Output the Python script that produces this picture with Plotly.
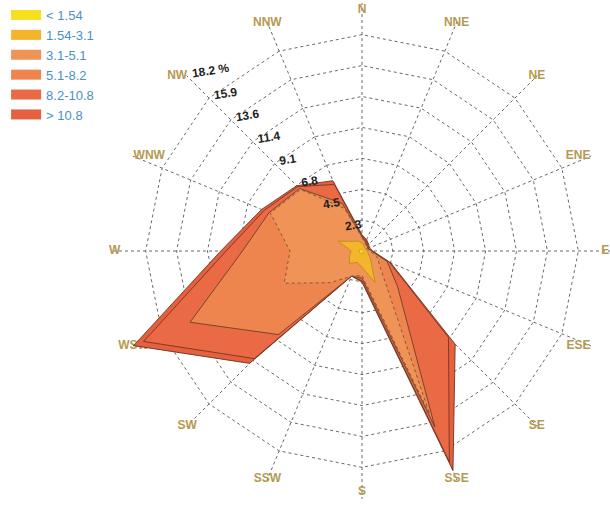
import numpy as np
import plotly.graph_objects as go

directions = ["N", "NNE", "NE", "ENE", "E", "ESE", "SE", "SSE",
              "S", "SSW", "SW", "WSW", "W", "WNW", "NW", "NNW"]

speed_classes = ["< 1.54", "1.54-3.1", "3.1-5.1", "5.1-8.2", "8.2-10.8", "> 10.8"]

# frequency (%) per direction for each wind-speed class
freq_lt_1_54 = [0.1, 0.1, 0.1, 0.1, 0.1, 0.1, 0.1, 0.2, 0.2, 0.2, 0.2, 0.2, 0.2, 0.2, 0.2, 0.1]
freq_1_54_3_1 = [0.5, 0.3, 0.2, 0.2, 0.3, 0.4, 0.8, 2.3, 1.0, 0.7, 1.1, 0.8, 0.6, 1.7, 0.8, 0.7]
freq_3_1_5_1 = [0.4, 0.2, 0.2, 0.1, 0.2, 0.7, 1.1, 10.5, 0.6, 1.1, 2.0, 5.2, 4.5, 5.4, 5.4, 2.6]
freq_5_1_8_2 = [0.0, 0.1, 0.0, 0.1, 0.1, 0.8, 1.7, 1.0, 0.2, 0.0, 5.4, 7.5, 3.5, 0.1, 0.1, 0.4]
freq_8_2_10_8 = [0.1, 0.1, 0.1, 0.0, 0.0, 0.2, 5.3, 2.8, 0.2, 0.0, 2.5, 3.7, 1.2, 0.4, 0.2, 1.5]
freq_gt_10_8 = [0.1, 0.1, 0.1, 0.1, 0.1, 0.1, 0.7, 0.7, 0.1, 0.0, 0.5, 0.8, 0.4, 0.2, 0.1, 0.3]

ring_labels = ["2.3", "4.5", "6.8", "9.1", "11.4", "13.6", "15.9", "18.2 %"]
ring_max = 18.2

class_freqs = [freq_lt_1_54, freq_1_54_3_1, freq_3_1_5_1,
               freq_5_1_8_2, freq_8_2_10_8, freq_gt_10_8]
class_colors = ["#f4e01e", "#f3b52c", "#ef9456", "#ee854e", "#e96a44", "#e4603e"]
class_lines = ["#c8a020", "#b88a20", "#6a4a3a", "#5a3a2a", "#6a3020", "#5a2a1a"]
class_dash = ["solid", "solid", "dot", "solid", "solid", "solid"]

cumulative = np.cumsum(np.array(class_freqs), axis=0)

fig = go.Figure()

# direction labels sitting on the outer ring
label_pos = {"N": "bottom center", "S": "top center",
             "ENE": "middle left", "E": "middle left", "ESE": "middle left",
             "WNW": "middle right", "NW": "middle left"}
fig.add_trace(go.Scatterpolar(
    r=[ring_max] * len(directions), theta=directions, mode="text",
    text=directions,
    textposition=[label_pos.get(d, "middle center") for d in directions],
    textfont=dict(family="Arial, Liberation Sans", size=12, color="#b49a52", weight="bold"),
    showlegend=False, hoverinfo="skip", cliponaxis=False))

theta_closed = directions + [directions[0]]
for i in range(len(speed_classes) - 1, -1, -1):
    r_vals = list(cumulative[i]) + [cumulative[i][0]]
    fig.add_trace(go.Scatterpolar(
        r=r_vals, theta=theta_closed, mode="lines", fill="toself",
        fillcolor=class_colors[i],
        line=dict(color=class_lines[i], width=0.8, dash=class_dash[i]),
        name=speed_classes[i], showlegend=False, cliponaxis=False))

# legend swatches
for i, name in enumerate(speed_classes):
    fig.add_trace(go.Scatterpolar(
        r=[None], theta=[None], mode="lines",
        line=dict(color=class_colors[i], width=15),
        name=name, legendrank=i + 1, showlegend=True))

tickvals = [ring_max * (k + 1) / len(ring_labels) for k in range(len(ring_labels))]
radial_angle = 126

fig.update_layout(
    width=610, height=508,
    margin=dict(l=0, r=0, t=0, b=0),
    paper_bgcolor="white",
    showlegend=True,
    legend=dict(x=0.01, y=1.0, xanchor="left", yanchor="top",
                font=dict(family="Arial, Liberation Sans", size=13, color="#4a8fca"),
                bgcolor="rgba(0,0,0,0)", tracegroupgap=0, itemwidth=30),
    polar=dict(
        domain=dict(x=[0.1869, 1.0], y=[0.0177, 0.9941]),
        bgcolor="white",
        gridshape="linear",
        angularaxis=dict(
            rotation=90, direction="clockwise",
            categoryorder="array", categoryarray=directions,
            showgrid=True, gridcolor="#6a6a6a", griddash="dot", gridwidth=1,
            showline=False, showticklabels=False, ticks=""),
        radialaxis=dict(
            range=[0, ring_max * 1.003], tickvals=tickvals, ticktext=ring_labels,
            angle=radial_angle, tickangle=radial_angle, side="clockwise",
            showline=False, ticks="",
            showgrid=True, gridcolor="#6a6a6a", griddash="dot", gridwidth=1,
            tickfont=dict(family="Arial, Liberation Sans", size=12, color="#222222", weight="bold"),
            layer="above traces")))

fig.write_html("out.html", config={"displayModeBar": False},
               post_script="document.body.style.margin='0px';")
